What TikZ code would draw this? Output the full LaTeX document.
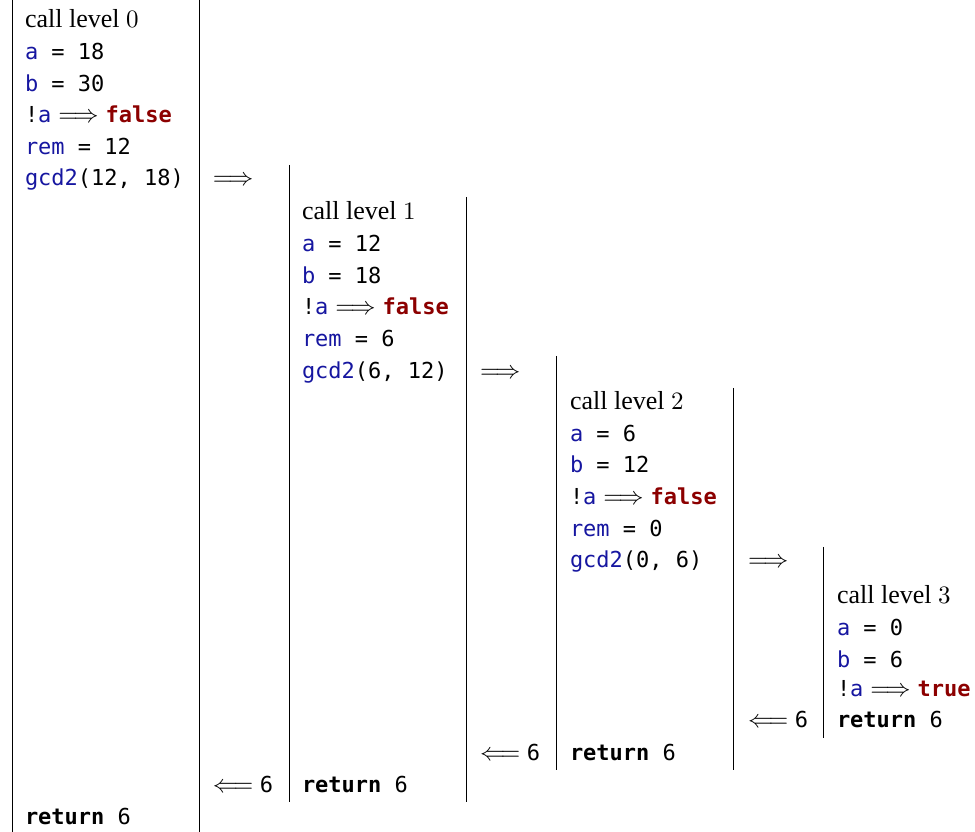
\documentclass[tikz,border=0pt]{standalone}
\usepackage[no-math]{fontspec}
\setmainfont{Liberation Serif}[Scale=1.04]
\setmonofont{DejaVu Sans Mono}[Scale=0.88]

\definecolor{idblue}{RGB}{22,22,160}
\definecolor{litred}{RGB}{140,0,0}

\newcommand{\ident}[1]{\textcolor{idblue}{\texttt{#1}}}
\newcommand{\keyw}[1]{\textbf{\texttt{#1}}}
\newcommand{\litv}[1]{\textcolor{litred}{\textbf{\texttt{#1}}}}

\tikzset{
  cell/.style={anchor=base west, inner sep=0pt, outer sep=0pt},
  rule/.style={draw=black, line width=0.4pt}
}

\begin{document}
\begin{tikzpicture}[x=0.4pt, y=-0.4pt]
      \useasboundingbox (0, 0) rectangle (975, 832);

      % Draw the rules of call level 0
      \draw[rule] (12, 0) -- (12, 832);
      \draw[rule] (199, 0) -- (199, 832);

      % Draw the rows of call level 0
      \node[cell] (lvl0) at (25, 28) {call level $0$};
      \node[cell] (a0) at (25, 60) {\ident{a}\texttt{ = 18}};
      \node[cell] (b0) at (25, 92) {\ident{b}\texttt{ = 30}};
      \node[cell] (not0) at (25, 123) {\texttt{!}\ident{a}${}\Longrightarrow{}$\litv{false}};
      \node[cell] (rem0) at (25, 155) {\ident{rem}\texttt{ = 12}};
      \node[cell] (call0) at (25, 186) {\ident{gcd2}\texttt{(12, 18)}};
      \node[cell] (go0) at (213, 186) {$\Longrightarrow$};
      \node[cell] (ret0) at (25, 825) {\keyw{return}\texttt{ 6}};

      % Draw the rules of call level 1
      \draw[rule] (289, 165) -- (289, 802);
      \draw[rule] (466, 197) -- (466, 802);

      % Draw the rows of call level 1
      \node[cell] (lvl1) at (302, 220) {call level $1$};
      \node[cell] (a1) at (302, 252) {\ident{a}\texttt{ = 12}};
      \node[cell] (b1) at (302, 284) {\ident{b}\texttt{ = 18}};
      \node[cell] (not1) at (302, 315) {\texttt{!}\ident{a}${}\Longrightarrow{}$\litv{false}};
      \node[cell] (rem1) at (302, 347) {\ident{rem}\texttt{ = 6}};
      \node[cell] (call1) at (302, 379) {\ident{gcd2}\texttt{(6, 12)}};
      \node[cell] (go1) at (480, 379) {$\Longrightarrow$};
      \node[cell] (back1) at (213, 793) {$\Longleftarrow$~\texttt{6}};
      \node[cell] (ret1) at (302, 793) {\keyw{return}\texttt{ 6}};

      % Draw the rules of call level 2
      \draw[rule] (556, 356) -- (556, 770);
      \draw[rule] (733, 388) -- (733, 770);

      % Draw the rows of call level 2
      \node[cell] (lvl2) at (570, 410) {call level $2$};
      \node[cell] (a2) at (570, 442) {\ident{a}\texttt{ = 6}};
      \node[cell] (b2) at (570, 473) {\ident{b}\texttt{ = 12}};
      \node[cell] (not2) at (570, 505) {\texttt{!}\ident{a}${}\Longrightarrow{}$\litv{false}};
      \node[cell] (rem2) at (570, 537) {\ident{rem}\texttt{ = 0}};
      \node[cell] (call2) at (570, 568) {\ident{gcd2}\texttt{(0, 6)}};
      \node[cell] (go2) at (748, 568) {$\Longrightarrow$};
      \node[cell] (back2) at (480, 761) {$\Longleftarrow$~\texttt{6}};
      \node[cell] (ret2) at (570, 761) {\keyw{return}\texttt{ 6}};

      % Draw the rule of call level 3
      \draw[rule] (823, 547) -- (823, 738);

      % Draw the rows of call level 3
      \node[cell] (lvl3) at (837, 604) {call level $3$};
      \node[cell] (a3) at (837, 636) {\ident{a}\texttt{ = 0}};
      \node[cell] (b3) at (837, 668) {\ident{b}\texttt{ = 6}};
      \node[cell] (not3) at (837, 697) {\texttt{!}\ident{a}${}\Longrightarrow{}$\litv{true}};
      \node[cell] (back3) at (748, 728) {$\Longleftarrow$~\texttt{6}};
      \node[cell] (ret3) at (837, 728) {\keyw{return}\texttt{ 6}};
    \end{tikzpicture}
\end{document}
